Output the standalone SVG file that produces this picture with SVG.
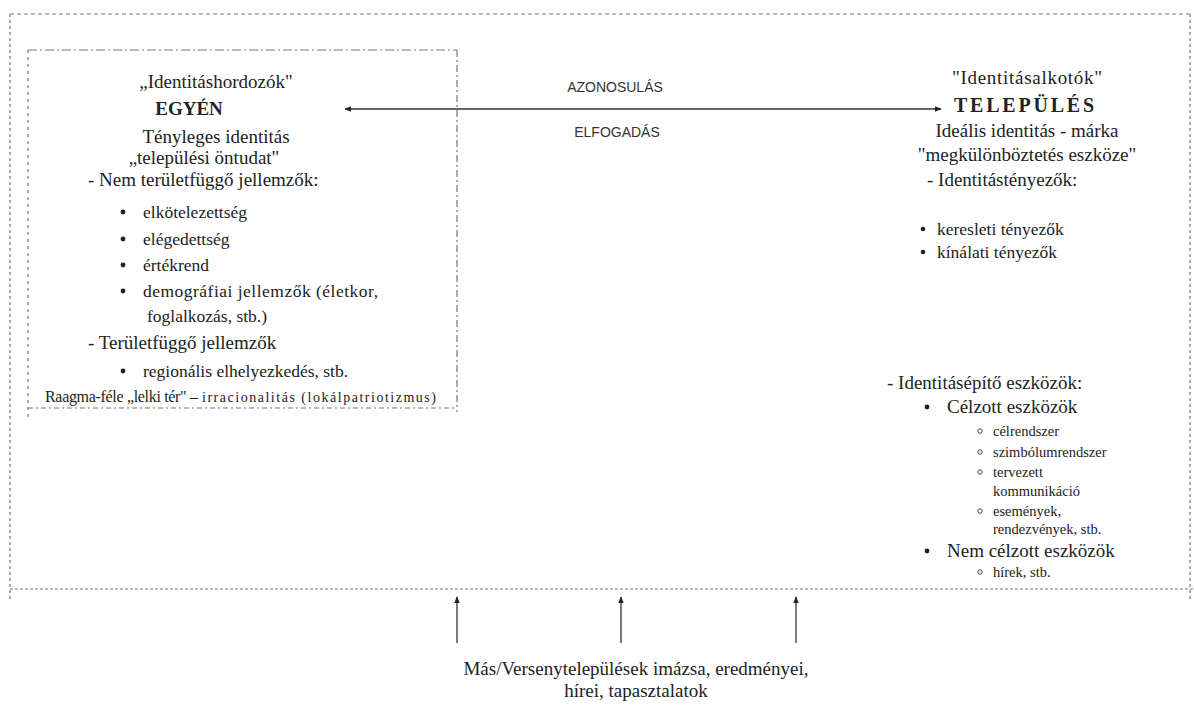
<svg xmlns="http://www.w3.org/2000/svg" width="1194" height="709" viewBox="0 0 1194 709">
<style>
.t{font-family:"Liberation Serif","Times New Roman",serif;fill:#222}
.h{font-size:19px}
.i{font-size:17.5px}
.si{font-size:14.5px}
.b{font-weight:bold}
.sans{font-family:"Liberation Sans",Arial,sans-serif;font-size:14px;fill:#333}
.frame{fill:none;stroke:#777;stroke-width:1.2}
.conn{stroke:#333;stroke-width:1.3;fill:none}
.dot{fill:#222}
.ring{fill:none;stroke:#444;stroke-width:1}
</style>
<defs>
<marker id="ah" viewBox="0 0 10 10" refX="9" refY="5" markerWidth="7" markerHeight="7" orient="auto-start-reverse" markerUnits="userSpaceOnUse">
<path d="M0,1 L10,5 L0,9 z" fill="#222"/>
</marker>
</defs>
<rect width="1194" height="709" fill="#fff"/>
<g id="outer-frame">
<line class="frame" x1="10" y1="14" x2="1192" y2="14" stroke-dasharray="4 3"/>
<line class="frame" x1="10" y1="14" x2="10" y2="602" stroke-dasharray="3 3"/>
<line class="frame" x1="1190" y1="14" x2="1190" y2="600" stroke="#ddd" stroke-dasharray="3 3"/>
<line class="frame" x1="10" y1="589" x2="1194" y2="589" stroke-dasharray="3 2" stroke-width="1.6"/>
</g>
<g id="inner-box">
<line class="frame" x1="28" y1="50" x2="457" y2="50" stroke-dasharray="9 3 2 3"/>
<line class="frame" x1="28" y1="50" x2="28" y2="420" stroke-dasharray="3 4"/>
<line class="frame" x1="457" y1="50" x2="457" y2="412" stroke-dasharray="7 3 2 3"/>
<line class="frame" x1="28" y1="408" x2="457" y2="408" stroke-dasharray="5 3 2 3"/>
</g>
<g id="connectors">
<line class="conn" x1="345" y1="109" x2="941" y2="109" marker-start="url(#ah)" marker-end="url(#ah)"/>
<line class="conn" x1="457" y1="643" x2="457" y2="597" marker-end="url(#ah)"/>
<line class="conn" x1="621" y1="643" x2="621" y2="597" marker-end="url(#ah)"/>
<line class="conn" x1="796" y1="643" x2="796" y2="597" marker-end="url(#ah)"/>
</g>
<g id="arrow-labels">
<text class="sans" x="615" y="92" text-anchor="middle">AZONOSULÁS</text>
<text class="sans" x="617" y="137" text-anchor="middle">ELFOGADÁS</text>
</g>
<g id="node-egyen">
<text class="t h" x="216" y="88" text-anchor="middle">„Identitáshordozók"</text>
<text class="t h b" x="189" y="115" text-anchor="middle">EGYÉN</text>
<text class="t h" x="216" y="143" text-anchor="middle">Tényleges identitás</text>
<text class="t h" x="204" y="164" text-anchor="middle">„települési öntudat"</text>
<text class="t h" x="88" y="186">- Nem területfüggő jellemzők:</text>
<circle class="dot" cx="123" cy="212" r="2.4"/>
<text class="t i" x="143" y="218">elkötelezettség</text>
<circle class="dot" cx="123" cy="239" r="2.4"/>
<text class="t i" x="143" y="245">elégedettség</text>
<circle class="dot" cx="123" cy="265" r="2.4"/>
<text class="t i" x="143" y="271">értékrend</text>
<circle class="dot" cx="123" cy="291" r="2.4"/>
<text class="t i" x="143" y="297" textLength="235" lengthAdjust="spacing">demográfiai jellemzők (életkor,</text>
<text class="t i" x="147" y="322">foglalkozás, stb.)</text>
<text class="t h" x="88" y="349">- Területfüggő jellemzők</text>
<circle class="dot" cx="123" cy="371" r="2.4"/>
<text class="t i" x="143" y="377">regionális elhelyezkedés, stb.</text>
<text class="t" x="45" y="402" style="font-size:16px" textLength="153" lengthAdjust="spacing">Raagma-féle „lelki tér" –</text>
<text class="t" x="202" y="402" style="font-size:14px" textLength="234" lengthAdjust="spacing">irracionalitás (lokálpatriotizmus)</text>
</g>
<g id="node-telepules">
<text class="t h" x="1027" y="84" text-anchor="middle" textLength="150" lengthAdjust="spacing">"Identitásalkotók"</text>
<text class="t b" x="1024" y="112" text-anchor="middle" style="font-size:20px" textLength="140" lengthAdjust="spacing">TELEPÜLÉS</text>
<text class="t h" x="1027" y="137" text-anchor="middle">Ideális identitás - márka</text>
<text class="t h" x="1027" y="161" text-anchor="middle">"megkülönböztetés eszköze"</text>
<text class="t h" x="927" y="186">- Identitástényezők:</text>
<circle class="dot" cx="923" cy="229" r="2.3"/>
<text class="t i" x="937" y="235">keresleti tényezők</text>
<circle class="dot" cx="923" cy="252" r="2.3"/>
<text class="t i" x="937" y="258">kínálati tényezők</text>
<text class="t h" x="887" y="389">- Identitásépítő eszközök:</text>
<circle class="dot" cx="927" cy="407" r="2.4"/>
<text class="t h" x="947" y="413">Célzott eszközök</text>
<circle class="ring" cx="980" cy="431" r="2.2"/>
<text class="t si" x="993" y="436">célrendszer</text>
<circle class="ring" cx="980" cy="452" r="2.2"/>
<text class="t si" x="993" y="457">szimbólumrendszer</text>
<circle class="ring" cx="980" cy="472" r="2.2"/>
<text class="t si" x="993" y="477">tervezett</text>
<text class="t si" x="993" y="496">kommunikáció</text>
<circle class="ring" cx="980" cy="511" r="2.2"/>
<text class="t si" x="993" y="516">események,</text>
<text class="t si" x="993" y="534">rendezvények, stb.</text>
<circle class="dot" cx="927" cy="551" r="2.4"/>
<text class="t h" x="947" y="557">Nem célzott eszközök</text>
<circle class="ring" cx="980" cy="572" r="2.2"/>
<text class="t si" x="993" y="577">hírek, stb.</text>
</g>
<g id="node-mas">
<text class="t h" x="636" y="675" text-anchor="middle">Más/Versenytelepülések imázsa, eredményei,</text>
<text class="t h" x="636" y="697" text-anchor="middle">hírei, tapasztalatok</text>
</g>
</svg>
